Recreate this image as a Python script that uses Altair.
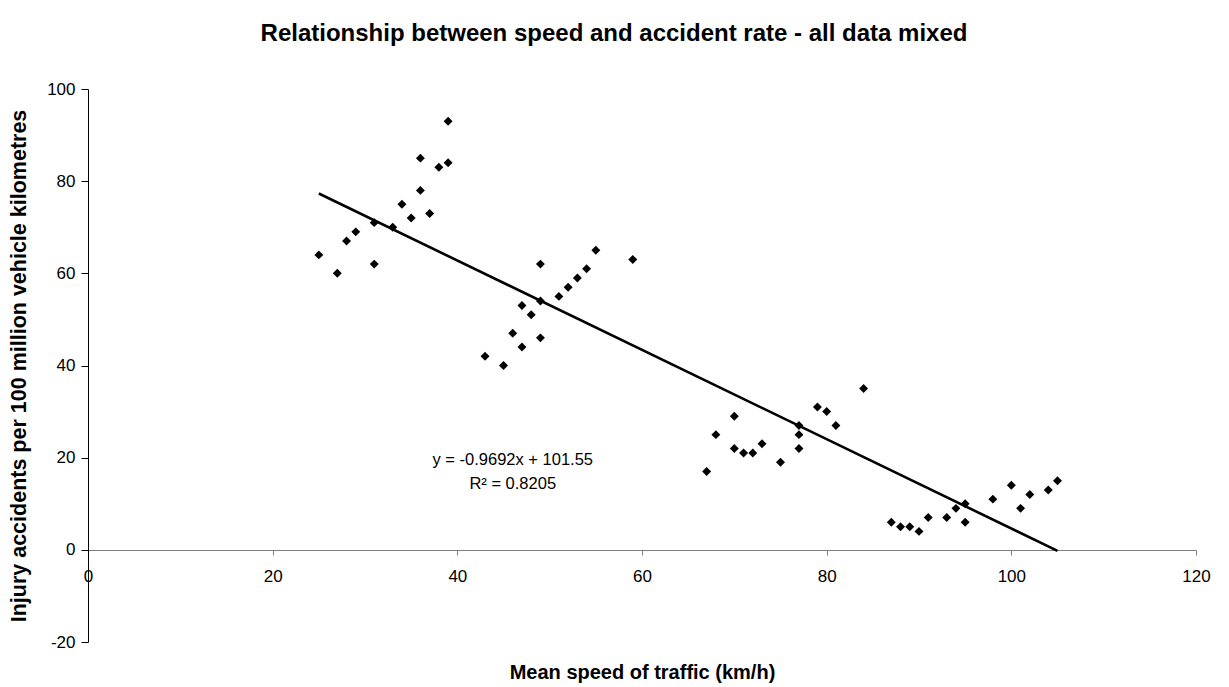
import altair as alt
import pandas as pd

# Mean speed of traffic (km/h)
speed = [25, 27, 28, 29, 31, 31, 33, 34, 35, 36, 36, 37, 38, 39, 39,
         43, 45, 46, 47, 47, 48, 49, 49, 49, 51, 52, 53, 54, 55, 59,
         67, 68, 70, 70, 71, 72, 73, 75, 77, 77, 77, 79, 80, 81, 84,
         87, 88, 89, 90, 91, 93, 94, 95, 95, 98, 100, 101, 102, 104, 105]
# Injury accidents per 100 million vehicle kilometres
rate = [64, 60, 67, 69, 71, 62, 70, 75, 72, 85, 78, 73, 83, 93, 84,
        42, 40, 47, 53, 44, 51, 62, 54, 46, 55, 57, 59, 61, 65, 63,
        17, 25, 29, 22, 21, 21, 23, 19, 27, 25, 22, 31, 30, 27, 35,
        6, 5, 5, 4, 7, 7, 9, 10, 6, 11, 14, 9, 12, 13, 15]

x_ticks = [0, 20, 40, 60, 80, 100, 120]
y_ticks = [-20, 0, 20, 40, 60, 80, 100]
equation_text = "y = -0.9692x + 101.55\nR\u00b2 = 0.8205"
equation_pos = (46.0, 19.5)

FONT = "Liberation Sans"

df = pd.DataFrame({"speed": speed, "rate": rate})

xscale = alt.Scale(domain=[0, 120], nice=False, zero=False)
yscale = alt.Scale(domain=[-20, 100], nice=False, zero=False)

xaxis = alt.Axis(
    values=x_ticks, title="Mean speed of traffic (km/h)", grid=False,
    offset=-92, domainColor="#808080", tickColor="#808080", tickSize=5,
    labelPadding=13, labelFontSize=17, labelColor="black", labelFont=FONT,
    labelExpr="'' + datum.value",
    titleFont=FONT, titleFontSize=20, titleFontWeight="bold", titleColor="black",
    titleY=112, titleBaseline="top", labelFlush=False, labelOverlap=False,
)
yaxis = alt.Axis(
    values=y_ticks, title="Injury accidents per 100 million vehicle kilometres",
    grid=False, domainColor="black", tickColor="black", tickSize=7,
    labelPadding=6, labelFontSize=17, labelColor="black", labelFont=FONT,
    labelExpr="'' + datum.value",
    titleFont=FONT, titleFontSize=21.5, titleFontWeight="bold", titleColor="black",
    titlePadding=16, labelFlush=False, labelOverlap=False,
)

base = alt.Chart(df)

points = base.mark_point(
    shape="diamond", filled=True, color="black", size=80, opacity=1
).encode(
    x=alt.X("speed:Q", scale=xscale, axis=xaxis),
    y=alt.Y("rate:Q", scale=yscale, axis=yaxis),
)

trend = base.transform_regression("speed", "rate").mark_line(
    color="black", strokeWidth=2.6
).encode(
    x=alt.X("speed:Q", scale=xscale),
    y=alt.Y("rate:Q", scale=yscale),
)

label = alt.Chart(pd.DataFrame({"t": [equation_text]})).mark_text(
    font=FONT, fontSize=16.5, color="black", align="center", baseline="middle",
    lineBreak="\n", lineHeight=24,
).encode(
    x=alt.datum(equation_pos[0], scale=xscale),
    y=alt.datum(equation_pos[1], scale=yscale),
    text="t:N",
)

chart = alt.layer(trend, points, label).properties(
    width=1108,
    height=553,
    background="white",
    title=alt.TitleParams(
        text="Relationship between speed and accident rate - all data mixed",
        font=FONT, fontSize=24, fontWeight="bold", color="black",
        anchor="middle", dx=-28, offset=34,
    ),
    autosize=alt.AutoSizeParams(type="none"),
    padding={"left": 80, "top": 81, "right": 25, "bottom": 46},
).configure_view(stroke=None)

chart.save("out.html", embed_options={"renderer": "svg", "actions": False})
